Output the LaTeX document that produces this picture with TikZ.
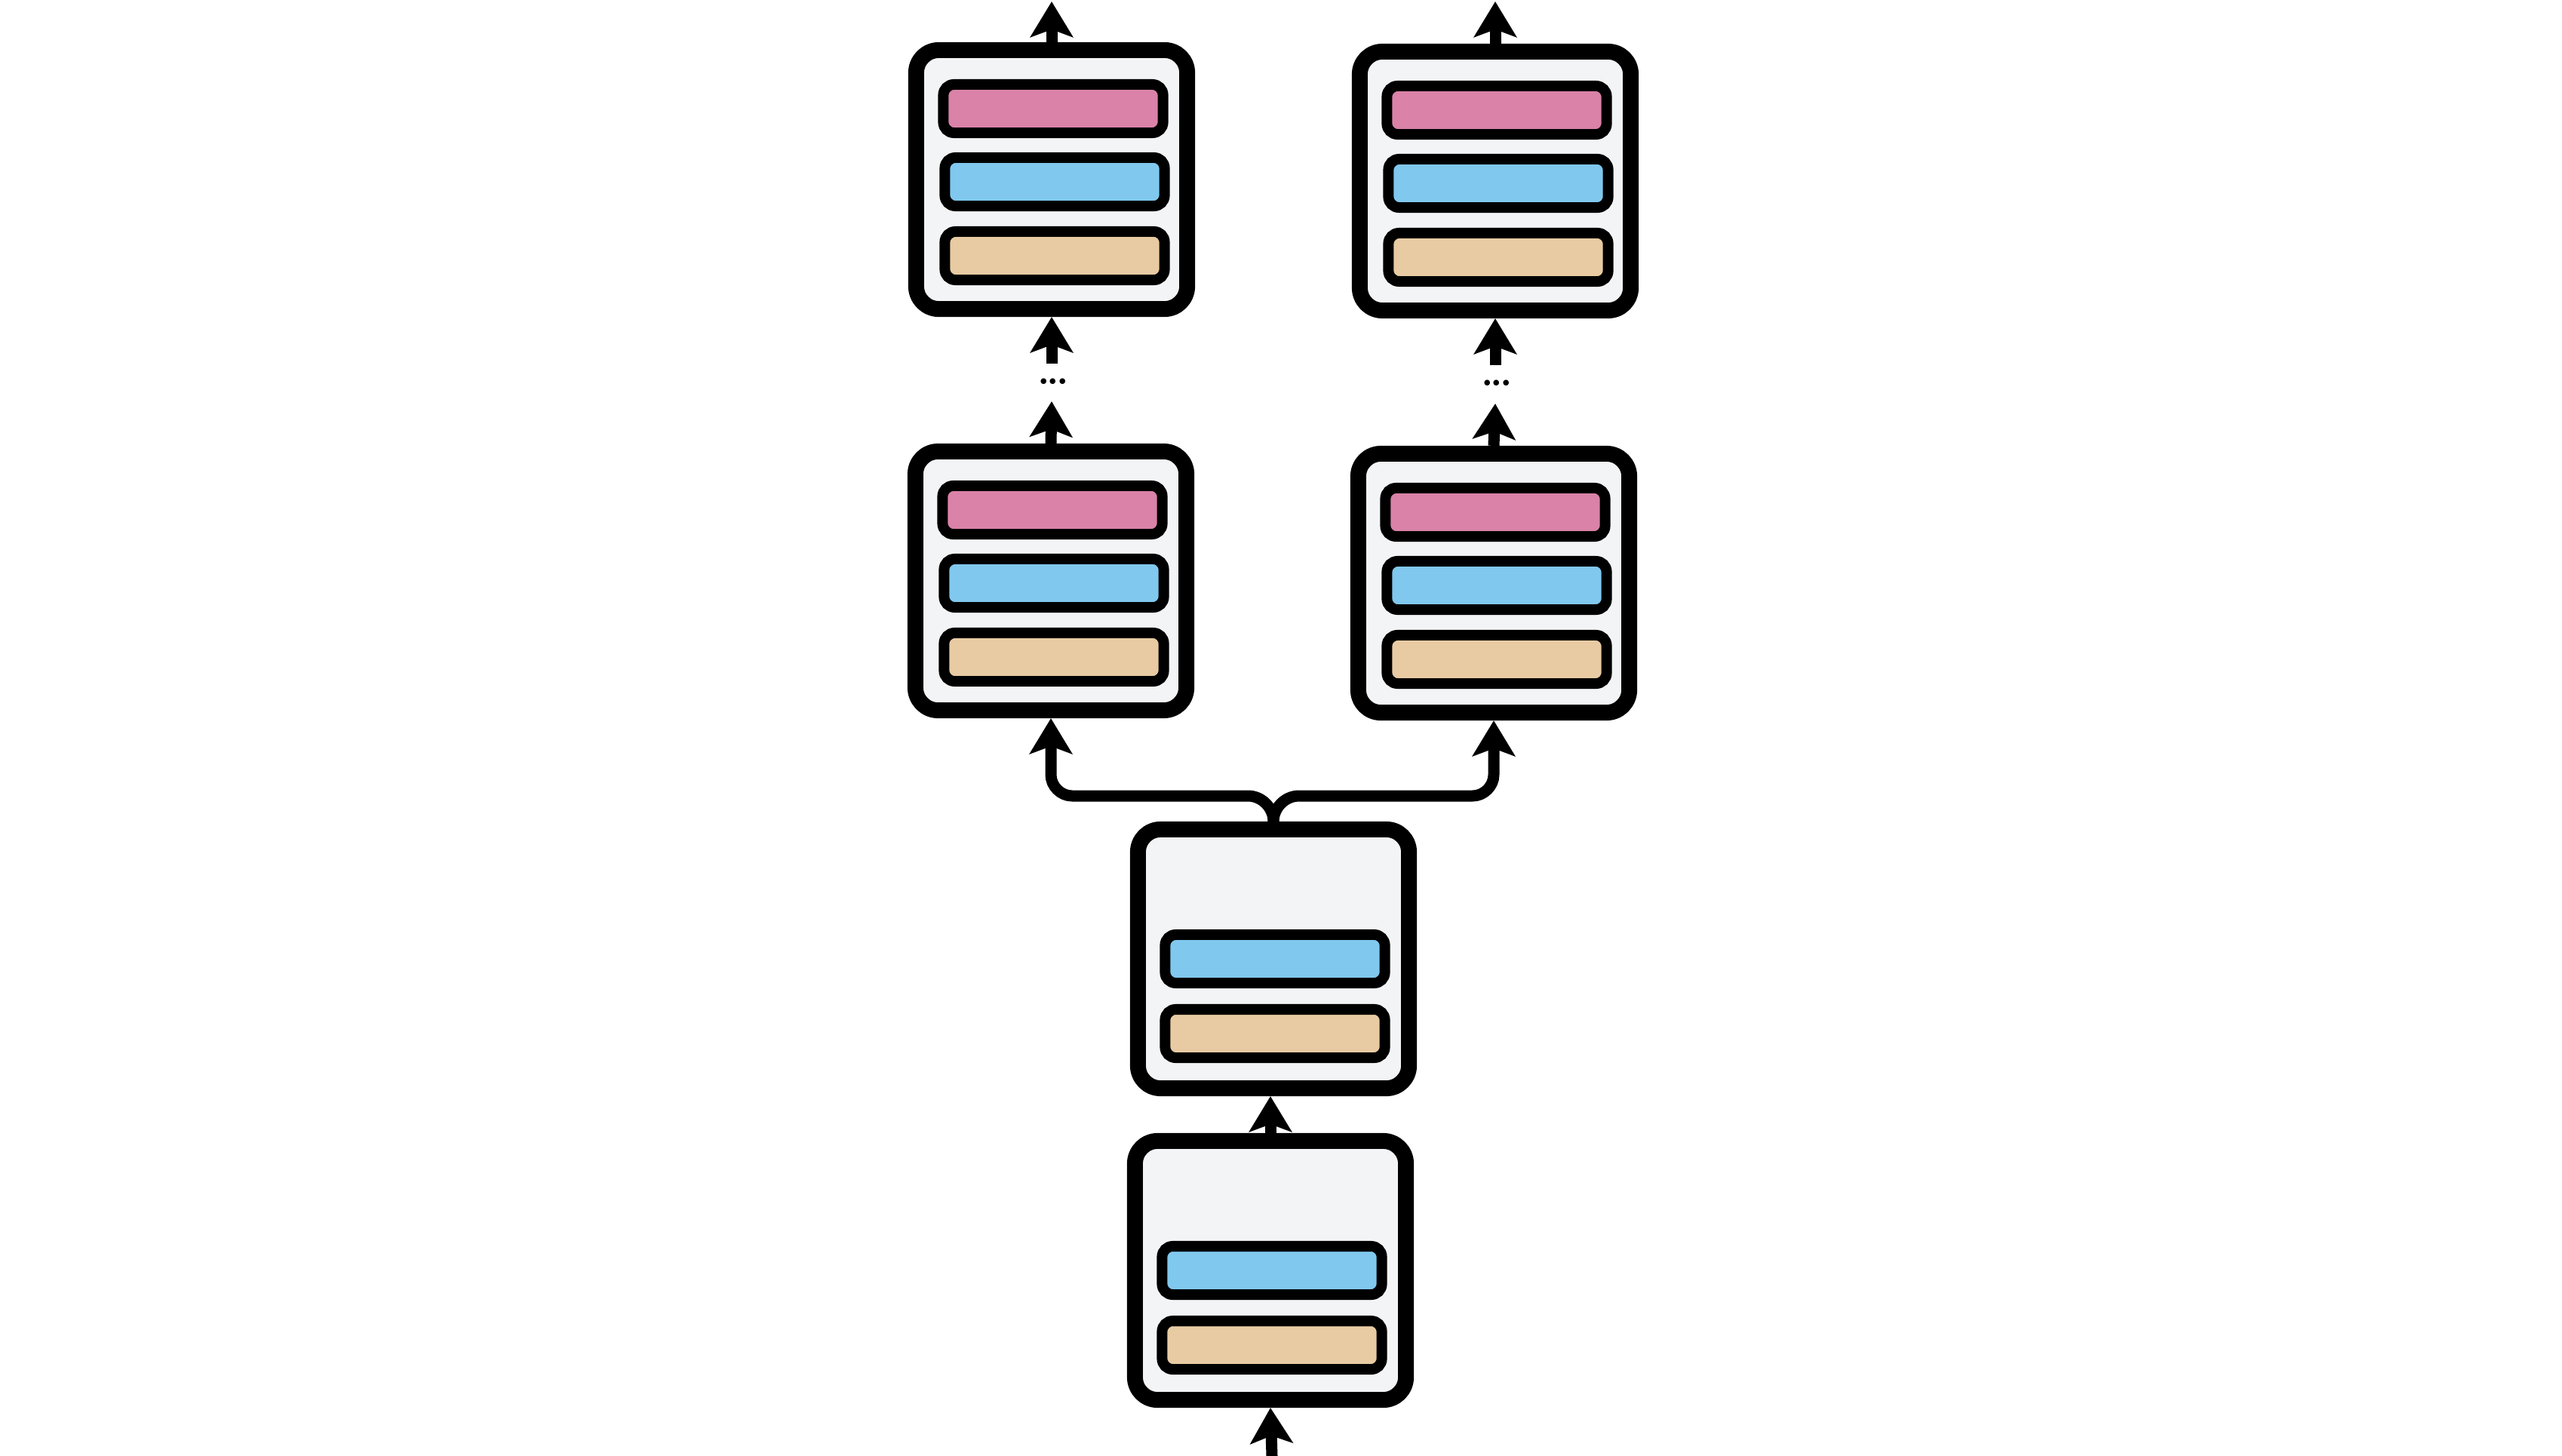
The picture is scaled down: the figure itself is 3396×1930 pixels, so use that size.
\documentclass[tikz,border=0pt]{standalone}
\usetikzlibrary{arrows.meta,calc}
\definecolor{pinkc}{RGB}{218,130,168}
\definecolor{bluec}{RGB}{128,200,238}
\definecolor{tanc}{RGB}{232,203,163}
\definecolor{bgc}{RGB}{243,244,246}
\tikzset{
  block/.style={rectangle, draw=black, fill=bgc, line width=0.21cm, rounded corners=0.3cm,
    minimum width=3.59cm, minimum height=3.43cm, inner sep=0pt},
  bar/.style={rectangle, draw=black, line width=0.14cm, rounded corners=0.14cm,
    minimum width=2.91cm, minimum height=0.64cm, inner sep=0pt},
  arr/.style={draw=black, line width=0.15cm, line join=round,
    -{Stealth[length=0.47cm,width=0.56cm,inset=0.1cm]}},
  dots/.style={inner sep=0pt, font=\bfseries\fontsize{15}{15}\selectfont}
}
\begin{document}
\begin{tikzpicture}[x=0.01cm,y=-0.01cm]
\useasboundingbox[fill=white] (0,0) rectangle (3396,1930);
% three-bar blocks
\foreach \n/\x/\y in {tl/1394/238, tr/1982/240, ml/1393/770, mr/1980/773}{
  \node[block] (\n) at (\x,\y) {};
  \node[bar, fill=pinkc] (\n-p) at ($(\n)+(2,-94)$) {};
  \node[bar, fill=bluec] (\n-b) at ($(\n)+(4,3)$) {};
  \node[bar, fill=tanc]  (\n-t) at ($(\n)+(4,101)$) {};
}
% two-bar blocks
\foreach \n/\x/\y in {c1/1688/1271, c2/1684/1684}{
  \node[block] (\n) at (\x,\y) {};
  \node[bar, fill=bluec] (\n-b) at ($(\n)+(2,0)$) {};
  \node[bar, fill=tanc]  (\n-t) at ($(\n)+(2,99)$) {};
}
% outputs at top
\coordinate (tlout) at (1394,2);
\coordinate (trout) at (1982,2);
\draw[arr] (tl.north) -- (tlout);
\draw[arr] (tr.north) -- (trout);
% ellipsis gaps
\coordinate (tlin) at (1394,482);
\coordinate (mlout) at (1394,532);
\coordinate (trin) at (1982,484);
\coordinate (mrout) at (1982,535);
\draw[arr] (tlin) -- (tl.south);
\draw[arr] (ml.north) -- (mlout);
\draw[arr] (trin) -- (tr.south);
\draw[arr] (mr.north) -- (mrout);
\node[dots] (dl) at (1396,506) {.\kern-1.1pt.\kern-1.1pt.};
\node[dots] (dr) at (1984,508) {.\kern-1.1pt.\kern-1.1pt.};
% branching connector
\coordinate (jl) at (1654,1055);
\coordinate (jr) at (1722,1055);
\draw[arr] (c1.north) .. controls (1688,1071) and (1673,1055) .. (jl)
  -- (1421,1055) .. controls (1406,1055) and (1393,1042) .. (1393,1027) -- (ml.south);
\draw[arr] (c1.north) .. controls (1688,1071) and (1703,1055) .. (jr)
  -- (1952,1055) .. controls (1967,1055) and (1980,1042) .. (1980,1027) -- (mr.south);
% bottom chain
\draw[arr] (c2.north) -- (c2.north |- c1.south);
\coordinate (inp) at (1686,1930);
\draw[arr] (inp) -- (c2.south);
\end{tikzpicture}
\end{document}
